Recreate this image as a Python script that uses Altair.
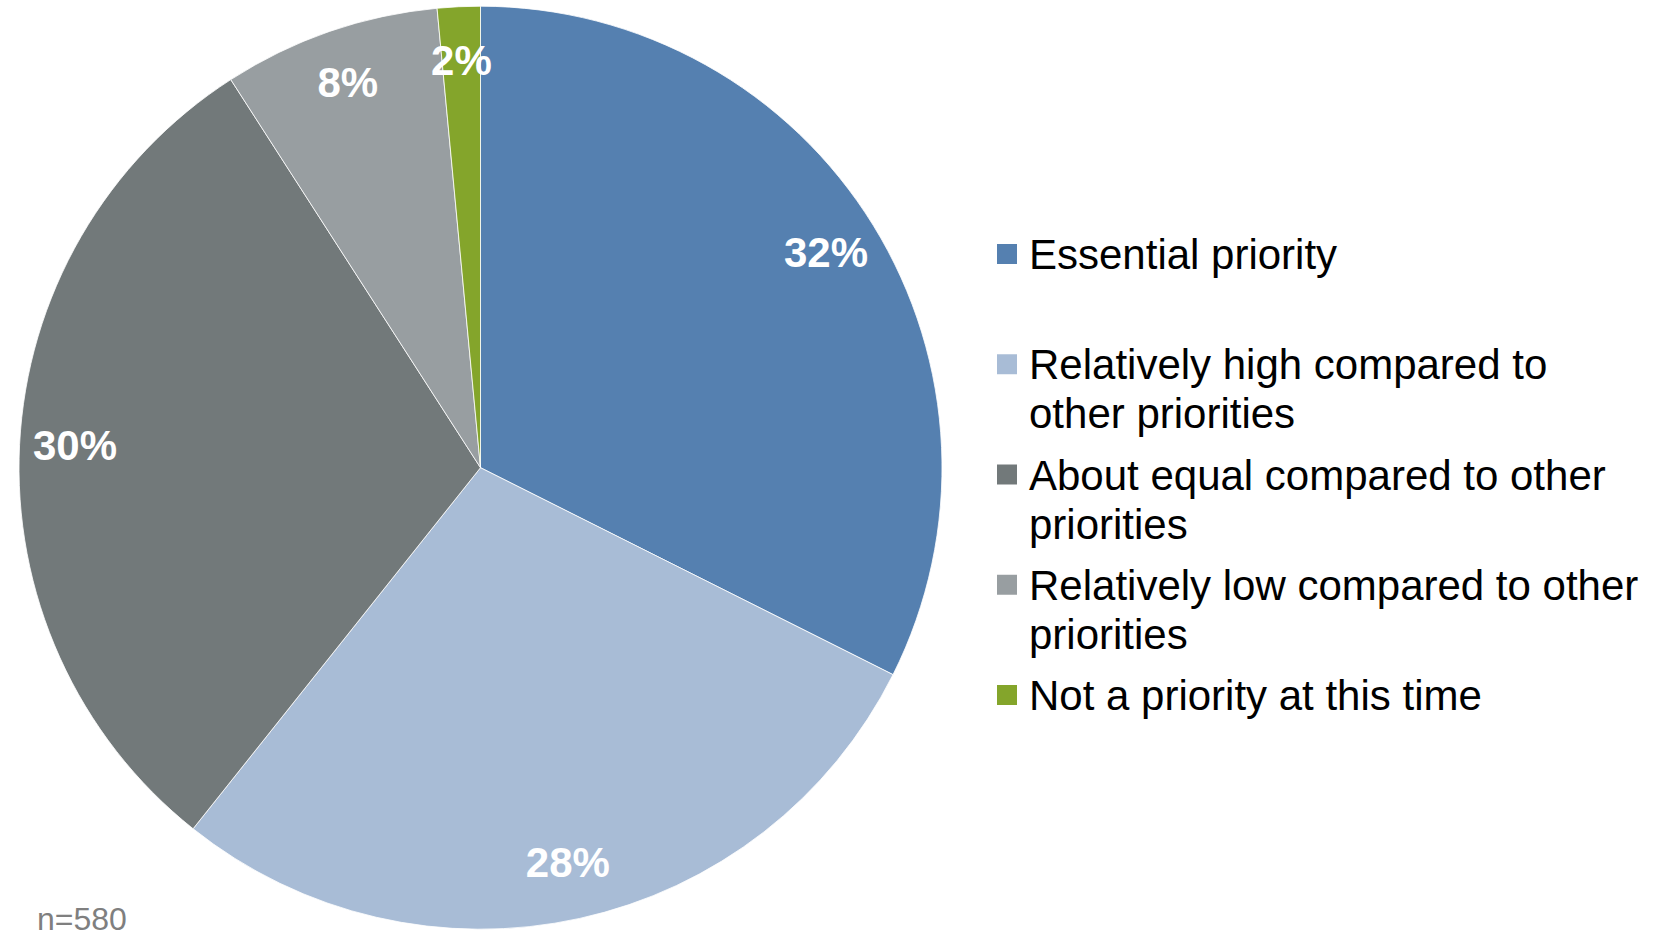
import altair as alt
import pandas as pd

categories = [
    "Essential priority",
    "Relatively high compared to other priorities",
    "About equal compared to other priorities",
    "Relatively low compared to other priorities",
    "Not a priority at this time",
]
legend_lines = [
    "Essential priority",
    "Relatively high compared to\nother priorities",
    "About equal compared to other\npriorities",
    "Relatively low compared to other\npriorities",
    "Not a priority at this time",
]
values = [32.4, 28.3, 30.2, 7.6, 1.5]
pct_labels = ["32%", "28%", "30%", "8%", "2%"]
colors = ["#5580B0", "#A8BCD6", "#72797A", "#989EA1", "#84A52B"]
note = "n=580"

df = pd.DataFrame({
    "idx": list(range(len(categories))),
    "category": categories,
    "legend": legend_lines,
    "value": values,
    "label": pct_labels,
})

FONT = "Liberation Sans"
CX, CY, R = 480.5, 467.7, 461.5

color_scale = alt.Scale(domain=categories, range=colors)

base = alt.Chart(df)

pie = base.mark_arc(radius=R, stroke="white", strokeWidth=0.8).encode(
    theta=alt.Theta("value:Q", stack=True),
    color=alt.Color("category:N", scale=color_scale, legend=None),
    order=alt.Order("idx:Q"),
    x=alt.value(CX),
    y=alt.value(CY),
)

labels = base.mark_text(
    radius=406, font=FONT, fontSize=42, fontWeight="bold", color="white",
    align="center", baseline="middle",
).encode(
    theta=alt.Theta("value:Q", stack=True),
    detail=alt.Detail("category:N"),
    order=alt.Order("idx:Q"),
    text=alt.Text("label:N"),
    x=alt.value(CX),
    y=alt.value(CY),
)

ypos = alt.Y("idx:O", axis=None, scale=alt.Scale(range=[254, 695], padding=0))

leg_sym = base.mark_square(size=400, opacity=1).encode(
    x=alt.value(1007),
    y=ypos,
    color=alt.Color("category:N", scale=color_scale, legend=None),
)

leg_txt = base.mark_text(
    font=FONT, fontSize=42, color="black", align="left", baseline="top",
    lineBreak="\n", lineHeight=49, dy=-18,
).encode(
    x=alt.value(1029),
    y=ypos,
    text=alt.Text("legend:N"),
)

note_chart = alt.Chart(pd.DataFrame({"t": [note]})).mark_text(
    font=FONT, fontSize=32, color="#7F7F7F", align="left", baseline="middle",
).encode(
    text="t:N",
    x=alt.value(37),
    y=alt.value(920),
)

chart = alt.layer(pie, labels, leg_sym, leg_txt, note_chart).properties(
    width=1678, height=937,
    autosize=alt.AutoSizeParams(type="none"),
    padding=0,
    background="white",
).configure_view(stroke=None)

chart.save("out.html", embed_options={"renderer": "svg", "actions": False})
